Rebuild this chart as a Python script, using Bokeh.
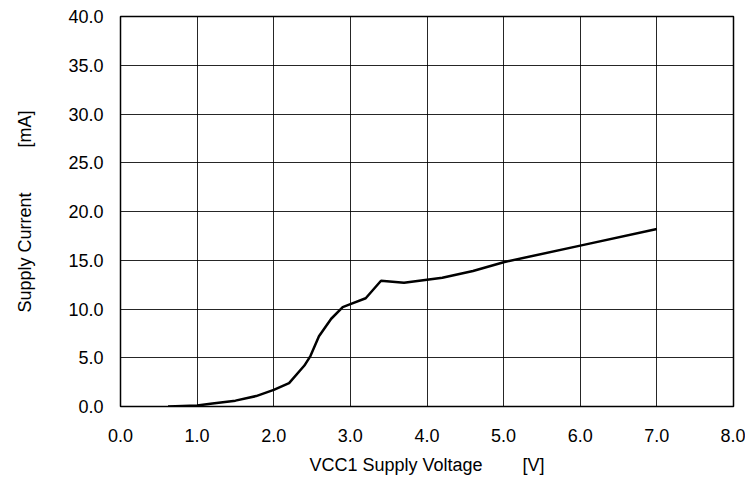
from bokeh.plotting import figure
from bokeh.models import Range1d, FixedTicker, CustomJSTickFormatter
from bokeh.embed import file_html
from bokeh.resources import INLINE

# Data
voltage = [0.62, 1.0, 1.2, 1.5, 1.77, 2.0, 2.2, 2.4, 2.48, 2.59, 2.75, 2.9, 3.0, 3.2, 3.4, 3.7, 4.2, 4.6, 5.0, 6.0, 7.0]
current = [0.0, 0.1, 0.3, 0.6, 1.07, 1.7, 2.4, 4.2, 5.2, 7.2, 9.0, 10.2, 10.5, 11.1, 12.9, 12.7, 13.2, 13.9, 14.8, 16.5, 18.2]

x_ticks = [0, 1, 2, 3, 4, 5, 6, 7, 8]
y_ticks = [0, 5, 10, 15, 20, 25, 30, 35, 40]
x_title = "VCC1 Supply Voltage" + "\u00a0" * 8 + "[V]"
y_title = "Supply Current" + "\u00a0" * 9 + "[mA]"

FONT = "Liberation Sans"
FS = "18px"

p = figure(width=745, height=478, output_backend="svg", toolbar_location=None,
           x_range=Range1d(0, 8), y_range=Range1d(0, 40),
           min_border_left=120, min_border_right=12, min_border_top=16, min_border_bottom=72)

p.line(voltage, current, line_color="black", line_width=2.5)

p.outline_line_color = "black"
p.outline_line_width = 1.5

for ax, ticks in ((p.xaxis, x_ticks), (p.yaxis, y_ticks)):
    ax.ticker = FixedTicker(ticks=ticks)
    ax.formatter = CustomJSTickFormatter(code="return tick.toFixed(1);")
    ax.major_label_text_font = FONT
    ax.major_label_text_font_size = FS
    ax.major_label_text_color = "black"
    ax.major_tick_out = 0
    ax.major_tick_in = 0
    ax.minor_tick_out = 0
    ax.minor_tick_in = 0
    ax.axis_line_color = "black"
    ax.axis_label_text_font = FONT
    ax.axis_label_text_font_size = FS
    ax.axis_label_text_font_style = "normal"
    ax.axis_label_text_color = "black"

p.xaxis.major_label_standoff = 22
p.yaxis.major_label_standoff = 17

p.xaxis.axis_label = x_title
p.xaxis.axis_label_standoff = 10
p.yaxis.axis_label = y_title
p.yaxis.axis_label_standoff = 30

p.xgrid.ticker = FixedTicker(ticks=x_ticks)
p.ygrid.ticker = FixedTicker(ticks=y_ticks)
for g in (p.xgrid, p.ygrid):
    g.grid_line_color = "black"
    g.grid_line_width = 1
    g.grid_line_alpha = 0.85

open("out.html", "w").write(file_html(p, INLINE))
